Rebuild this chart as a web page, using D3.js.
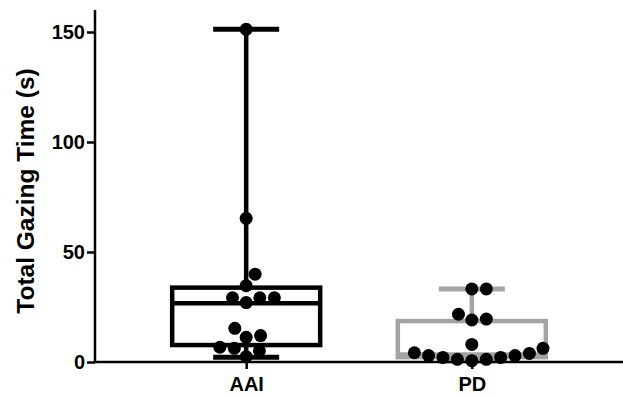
<!DOCTYPE html>
<html>
<head>
<meta charset="utf-8">
<script src="https://cdn.jsdelivr.net/npm/d3@7"></script>
<style>
  body { margin: 0; background: #fff; }
  svg { display: block; font-family: "Liberation Sans", Arial, sans-serif; }
</style>
</head>
<body>
<svg id="chart" width="623" height="397"></svg>
<script>
// groups on the x axis
var groups = ['AAI', 'PD'];
// individual values (s)
var aaiValues = [151.2, 65.3, 39.9, 34.7, 29.2, 29.2, 29.2, 27.0, 15.3, 12.0, 11.2, 6.7, 6.2, 5.1, 2.4];
var pdValues = [33.2, 33.2, 21.7, 19.5, 19.1, 8.0, 6.2, 4.2, 3.9, 2.9, 2.9, 2.1, 2.1, 1.2, 1.2, 0.6];
// box stats [min, q1, median, q3, max]
var aaiBox = [2.2, 7.7, 26.7, 33.8, 151.2];
var pdBox = [0.6, 2.2, 3.4, 18.6, 33.2];
var yTicks = [0, 50, 100, 150];

var boxColors = { AAI: '#000', PD: '#a3a3a3' };
var valuesBy = { AAI: aaiValues, PD: pdValues };
var boxBy = { AAI: aaiBox, PD: pdBox };

var W = 623, H = 397;
var margin = { top: 10, right: 0, bottom: 35, left: 95 };

var svg = d3.select('#chart');

var x = d3.scalePoint()
    .domain(groups)
    .range([margin.left, W - margin.right])
    .padding(0.67);

var y = d3.scaleLinear()
    .domain([0, 160])
    .range([H - margin.bottom, margin.top]);

var boxW = 148, capW = 66, r = 6.5;

// boxes + whiskers
groups.forEach(function(g) {
    var b = boxBy[g], cx = x(g), col = boxColors[g];
    var gg = svg.append('g').attr('stroke', col).attr('fill', 'none');
    gg.append('line') // whisker
        .attr('x1', cx).attr('x2', cx)
        .attr('y1', y(b[0])).attr('y2', y(b[4]))
        .attr('stroke-width', 4.5);
    [b[0], b[4]].forEach(function(v) {
        gg.append('line')
            .attr('x1', cx - capW / 2).attr('x2', cx + capW / 2)
            .attr('y1', y(v)).attr('y2', y(v))
            .attr('stroke-width', 5);
    });
    gg.append('rect')
        .attr('x', cx - boxW / 2).attr('width', boxW)
        .attr('y', y(b[3])).attr('height', y(b[1]) - y(b[3]))
        .attr('fill', '#fff')
        .attr('stroke-width', 4.5);
    gg.append('line')
        .attr('x1', cx - boxW / 2).attr('x2', cx + boxW / 2)
        .attr('y1', y(b[2])).attr('y2', y(b[2]))
        .attr('stroke-width', 4.5);
});

// simple beeswarm: smallest value first, nearest free spot to the centre
function swarm(vals, cx) {
    var D = 14.5, placed = [];
    vals.slice().sort(function(a, b) { return a - b; }).forEach(function(v) {
        var py = y(v), cands = [0];
        placed.forEach(function(p) {
            var dy = Math.abs(p.y - py);
            if (dy < D) {
                var dx = Math.sqrt(D * D - dy * dy);
                cands.push(p.dx + dx + 0.01, p.dx - dx - 0.01);
            }
        });
        cands.sort(function(a, b) { return Math.abs(a) - Math.abs(b) || b - a; });
        var best = cands.find(function(c) {
            return placed.every(function(p) {
                return Math.hypot(p.dx - c, p.y - py) >= D - 0.02;
            });
        });
        placed.push({ dx: best, y: py, v: v });
    });
    return placed.map(function(p) { return { x: cx + p.dx, y: p.y }; });
}

groups.forEach(function(g) {
    svg.append('g').selectAll('circle')
        .data(swarm(valuesBy[g], x(g)))
        .join('circle')
        .attr('cx', function(d) { return d.x; })
        .attr('cy', function(d) { return d.y; })
        .attr('r', r)
        .attr('fill', '#000');
});

// axes
var yAxis = svg.append('g')
    .attr('transform', 'translate(' + margin.left + ',0)')
    .call(d3.axisLeft(y).tickValues(yTicks).tickSize(8).tickPadding(2));
var xAxis = svg.append('g')
    .attr('transform', 'translate(0,' + (H - margin.bottom) + ')')
    .call(d3.axisBottom(x).tickSize(7).tickPadding(8));

[yAxis, xAxis].forEach(function(a) {
    a.select('.domain').attr('stroke', '#000').attr('stroke-width', 2.5);
    a.selectAll('.tick line').attr('stroke', '#000').attr('stroke-width', 2.5);
    a.selectAll('.tick text')
        .attr('fill', '#000')
        .style('font-size', '20px')
        .style('font-weight', 'bold')
        .style('font-family', '"Liberation Sans", Arial, sans-serif');
});
yAxis.select('.domain').attr('d', 'M0,' + margin.top + 'V' + (H - margin.bottom));
xAxis.select('.domain').attr('d', 'M' + margin.left + ',0H' + W);

svg.append('text')
    .attr('transform', 'translate(34,191) rotate(-90)')
    .attr('text-anchor', 'middle')
    .style('font-size', '24.5px')
    .style('font-weight', 'bold')
    .text('Total Gazing Time (s)');
</script>
</body>
</html>
